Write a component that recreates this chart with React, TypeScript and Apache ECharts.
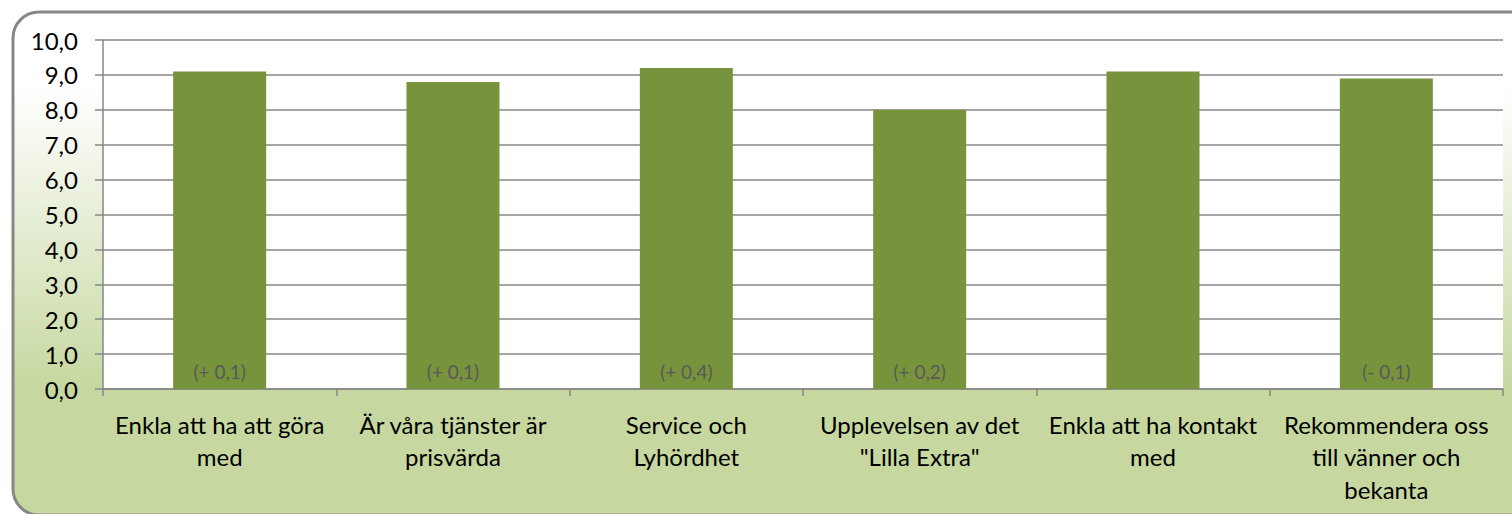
import React, { useEffect, useRef } from "react";
import * as echarts from "echarts";

const categories = [
  "Enkla att ha att göra\nmed",
  "Är våra tjänster är\nprisvärda",
  "Service och\nLyhördhet",
  "Upplevelsen av det\n\"Lilla Extra\"",
  "Enkla att ha kontakt\nmed",
  "Rekommendera oss\ntill vänner och\nbekanta",
];
const values = [9.1, 8.8, 9.2, 8.0, 9.1, 8.9];
const changeLabels = ["(+ 0,1)", "(+ 0,1)", "(+ 0,4)", "(+ 0,2)", "", "(- 0,1)"];

const FONT = "Lato, 'Open Sans', sans-serif";

export default function App() {
  const ref = useRef<HTMLDivElement>(null);
  useEffect(() => {
    if (!ref.current) return;
    const chart = echarts.init(ref.current, null, { renderer: "svg" });
    chart.setOption({
      animation: false,
      backgroundColor: "#ffffff",
      graphic: [
        {
          type: "rect",
          z: -10,
          silent: true,
          shape: { x: 13, y: 12, width: 1540, height: 503, r: 26 },
          style: {
            fill: new echarts.graphic.LinearGradient(0, 0, 0, 1, [
              { offset: 0, color: "#ffffff" },
              { offset: 0.15, color: "#ffffff" },
              { offset: 0.75, color: "#c6d8a0" },
              { offset: 1, color: "#c6d8a0" },
            ]),
            stroke: "#878787",
            lineWidth: 3,
          },
        },
      ],
      grid: { left: 103, top: 40, right: 9, bottom: 125, show: true, backgroundColor: "#ffffff", borderWidth: 0 },
      xAxis: {
        type: "category",
        data: categories,
        axisLine: { show: true, lineStyle: { color: "#878787", width: 1.5 } },
        axisTick: { show: true, alignWithLabel: false, length: 7, lineStyle: { color: "#878787", width: 1.5 } },
        axisLabel: {
          interval: 0,
          margin: 19,
          color: "#000000",
          fontSize: 24,
          fontFamily: FONT,
          lineHeight: 32.5,
          align: "center",
        },
      },
      yAxis: {
        type: "value",
        min: 0,
        max: 10,
        interval: 1,
        axisLine: { show: true, lineStyle: { color: "#878787", width: 1.5 } },
        axisTick: { show: true, length: 8, lineStyle: { color: "#878787", width: 1.5 } },
        splitLine: { show: true, lineStyle: { color: "#878787", width: 1.5 } },
        axisLabel: {
          margin: 25,
          color: "#000000",
          fontSize: 24,
          fontFamily: FONT,
          formatter: (v: number) => v.toFixed(1).replace(".", ","),
        },
      },
      series: [
        {
          type: "bar",
          data: values,
          barWidth: 93,
          itemStyle: { color: "#77933c" },
          label: {
            show: true,
            position: "insideBottom",
            distance: 8,
            color: "#595959",
            fontSize: 19,
            fontFamily: FONT,
            formatter: (p: any) => changeLabels[p.dataIndex],
          },
        },
      ],
    });
    return () => chart.dispose();
  }, []);
  return (
    <div
      ref={ref}
      style={{ position: "absolute", left: 0, top: 0, width: 1512, height: 514 }}
    />
  );
}
